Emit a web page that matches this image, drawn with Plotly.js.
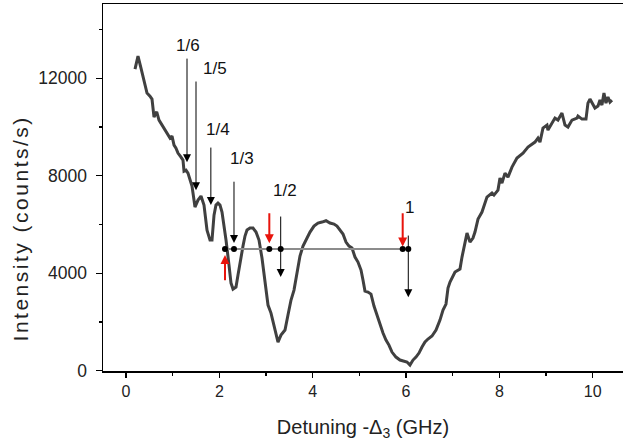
<!DOCTYPE html>
<html>
<head>
<meta charset="utf-8">
<script src="https://cdn.plot.ly/plotly-3.0.1.min.js"></script>
<style>
html,body{margin:0;padding:0;background:#fff;}
#chart{width:623px;height:441px;}
</style>
</head>
<body>
<div id="chart"></div>
<script>
// Measured spectrum: detuning -Δ3 (GHz) vs intensity (counts/s)
const detuning = [0.193,0.257,0.321,0.364,0.407,0.450,0.514,0.557,0.600,0.658,0.707,0.771,0.814,0.879,0.943,0.986,1.029,1.071,1.114,1.178,1.221,1.243,1.286,1.328,1.371,1.414,1.457,1.478,1.543,1.607,1.671,1.736,1.800,1.843,1.886,1.928,1.971,2.014,2.057,2.100,2.143,2.207,2.250,2.293,2.357,2.400,2.443,2.507,2.550,2.593,2.657,2.721,2.786,2.850,2.914,2.979,3.043,3.107,3.171,3.257,3.321,3.407,3.471,3.536,3.600,3.664,3.728,3.793,3.857,3.943,4.028,4.114,4.200,4.286,4.371,4.457,4.521,4.585,4.650,4.714,4.778,4.843,4.907,4.971,5.036,5.078,5.121,5.185,5.250,5.314,5.378,5.442,5.507,5.571,5.635,5.700,5.785,5.871,5.957,6.021,6.085,6.150,6.214,6.278,6.343,6.407,6.471,6.557,6.643,6.728,6.793,6.857,6.900,6.943,7.050,7.157,7.200,7.242,7.307,7.371,7.435,7.478,7.543,7.628,7.735,7.842,7.885,7.971,8.014,8.056,8.121,8.185,8.271,8.378,8.507,8.614,8.764,8.828,8.871,8.935,9.021,9.042,9.128,9.192,9.256,9.342,9.407,9.471,9.557,9.664,9.685,9.771,9.857,9.899,9.942,10.049,10.114,10.157,10.199,10.242,10.285,10.328,10.371,10.414];
const intensity = [12380,12910,12420,12050,11681,11394,11271,11148,10409,10627,10286,10081,9917,9753,9548,9630,9260,9137,8932,8768,8645,8194,8235,8112,7824,7578,7004,6717,7004,7168,6799,5773,5363,5363,6388,6799,6881,6799,6511,5978,5363,4337,3598,3352,3434,3927,4460,5116,5527,5773,5855,5855,5691,5363,4624,3598,2696,2367,1875,1178,1465,1670,2285,2901,3311,4050,4706,5116,5363,5691,5937,6060,6101,6155,6060,6019,5937,5773,5609,5281,5116,5034,4665,4460,4132,3721,3270,3229,3147,2655,2285,1834,1547,1260,1054,767,562,439,398,357,234,439,562,726,972,1178,1301,1424,1670,2080,2491,2737,3393,3639,4050,4173,4665,5034,5650,5281,5445,5691,6224,6511,7127,7291,7209,7414,7907,7701,8112,7948,8358,8727,8932,9178,9384,9548,9384,9958,10081,9876,10163,10368,10286,10573,10081,9999,10286,10368,10450,10327,10327,10984,11148,10779,10861,11107,10902,11394,10984,11230,11025,11107];

// Reference level and marked points
const levelIntensity = [5000, 5000];
const levelDetuning = [2.121, 6.049];
const dotDetuning = [2.121, 2.314, 3.071, 3.315, 5.929, 6.049];
const dotIntensity = [5000, 5000, 5000, 5000, 5000, 5000];

// Black resonance arrows
const resLabels = ['1/6', '1/5', '1/4', '1/3', '1/2', '1'];
const resDetuning = [1.307, 1.500, 1.818, 2.314, 3.315, 6.049];
const resTail = [12870, 11930, 9220, 7820, 6390, 5610];
const resTip = [8560, 7410, 6800, 5240, 3850, 3020];
const labelDetuning = [1.334, 1.907, 1.978, 2.479, 3.407, 6.085];
const labelIntensity = [13360, 12420, 9880, 8730, 7410, 6720];

// Red arrows
const redDetuning = [2.121, 3.071, 5.929];
const redTail = [3650, 6520, 6520];
const redTip = [4750, 5230, 5100];

const xTicks = [0, 2, 4, 6, 8, 10];
const yTicks = [0, 4000, 8000, 12000];
const yTitle = 'Intensity (counts/s)';

const FONT = '"Liberation Sans", Arial, Helvetica, sans-serif';

const traces = [
  {x: detuning, y: intensity, mode: 'lines', line: {color: '#404040', width: 3}, hoverinfo: 'skip'},
  {x: levelDetuning, y: levelIntensity, mode: 'lines', line: {color: '#8c8c8c', width: 2}, hoverinfo: 'skip'},
  {x: dotDetuning, y: dotIntensity, mode: 'markers', marker: {color: '#000', size: 6}, hoverinfo: 'skip'}
];

const annotations = [];
for (let i = 0; i < resLabels.length; i++) {
  annotations.push({x: resDetuning[i], y: resTip[i], ax: resDetuning[i], ay: resTail[i],
    xref: 'x', yref: 'y', axref: 'x', ayref: 'y', text: '', showarrow: true,
    arrowhead: 2, arrowsize: 1.6, arrowwidth: 1, arrowcolor: '#000', standoff: 0});
  annotations.push({x: labelDetuning[i], y: labelIntensity[i], xref: 'x', yref: 'y',
    text: resLabels[i], showarrow: false, font: {family: FONT, size: 17, color: '#111'}});
}
for (let i = 0; i < redDetuning.length; i++) {
  annotations.push({x: redDetuning[i], y: redTip[i], ax: redDetuning[i], ay: redTail[i],
    xref: 'x', yref: 'y', axref: 'x', ayref: 'y', text: '', showarrow: true,
    arrowhead: 2, arrowsize: 0.9, arrowwidth: 2, arrowcolor: '#e8140c', standoff: 0});
}
// y-axis title (placed as rotated text)
annotations.push({x: -0.158, y: 0.388, xref: 'paper', yref: 'paper', xanchor: 'center', yanchor: 'middle',
  text: yTitle, textangle: -90, showarrow: false, font: {family: FONT, size: 21, color: '#222'}});

const layout = {
  width: 623, height: 441,
  margin: {l: 103, r: 0, t: 4, b: 70},
  paper_bgcolor: '#fff', plot_bgcolor: '#fff',
  showlegend: false,
  font: {family: FONT, size: 16, color: '#222'},
  xaxis: {
    range: [-0.493, 10.65], tickvals: xTicks, ticktext: xTicks.map(String),
    ticks: 'outside', ticklen: 5, tickwidth: 1.3, tickcolor: '#000',
    showline: true, linecolor: '#000', linewidth: 1.5, mirror: true,
    showgrid: false, zeroline: false,
    minor: {dtick: 1, tick0: 1, ticks: 'outside', ticklen: 3, tickwidth: 1.3, tickcolor: '#000', showgrid: false},
    tickfont: {family: FONT, size: 16, color: '#222'},
    title: {text: 'Detuning -Δ<sub>3</sub> (GHz)', font: {family: FONT, size: 20, color: '#222'}, standoff: 26}
  },
  yaxis: {
    range: [-10, 15050], tickvals: yTicks, ticktext: yTicks.map(String),
    ticks: 'outside', ticklen: 6, tickwidth: 1.3, tickcolor: '#000',
    showline: true, linecolor: '#000', linewidth: 1.5,
    showgrid: false, zeroline: false,
    minor: {dtick: 2000, tick0: 0, ticks: 'outside', ticklen: 3, tickwidth: 1.3, tickcolor: '#000', showgrid: false},
    tickfont: {family: FONT, size: 17.5, color: '#222'},
    ticklabelstandoff: 5
  },
  annotations: annotations
};

Plotly.newPlot('chart', traces, layout, {displayModeBar: false, staticPlot: true}).then(function () {
  document.querySelectorAll('.annotation-text').forEach(function (t) {
    if (t.textContent === yTitle) t.style.letterSpacing = '2.5px';
  });
});
</script>
</body>
</html>
